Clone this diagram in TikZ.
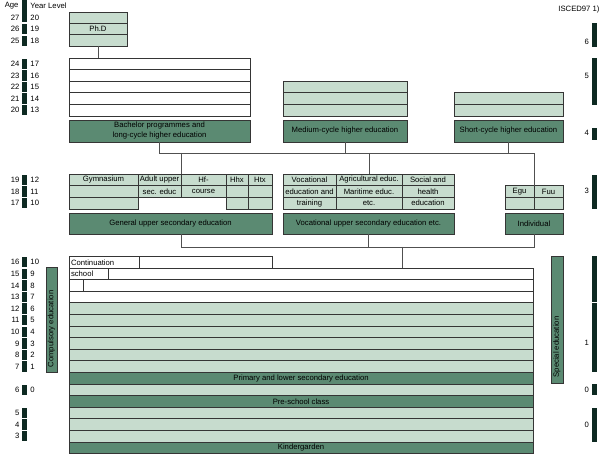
\documentclass[tikz,border=0pt]{standalone}
\usepackage{fontspec}
\setmainfont{Liberation Sans}
\usetikzlibrary{calc}
\definecolor{lgreen}{HTML}{C7DCCE}
\definecolor{dgreen}{HTML}{5B8A72}
\definecolor{barc}{HTML}{0E2A22}
\definecolor{bordc}{HTML}{353535}
\definecolor{connc}{HTML}{505050}
% box from (x1,y1) to (x2,y2)
\newcommand\rb[7]{\node[#1, minimum width={(#5-#3)*1pt}, minimum height={(#6-#4)*1pt}] (#2) at ({(#3+#5)/2},{(#4+#6)/2}) {#7};}
% left age / year row
\newcommand\yr[4]{%
  \node[barbox, minimum height=10.4pt] (#1) at (24.2,#2) {};
  \node[anchor=east] (#1a) at (19.5,#2) {#3};
  \node[anchor=west] (#1l) at (30.5,#2) {#4};}
% right ISCED bar
\newcommand\isc[5]{%
  \node[barbox, minimum height={(#3-#2)*1pt}] (#1) at (594.5,{(#2+#3)/2}) {};
  \node[anchor=east] (#1t) at (589,#4) {#5};}
\begin{document}
\begin{tikzpicture}[x=1pt,y=-1pt,
  every node/.style={inner sep=0pt, outer sep=0pt, font=\fontsize{7.7}{10}\selectfont, text=black},
  lrow/.style={fill=lgreen, draw=bordc, line width=0.9pt},
  wrow/.style={fill=white, draw=bordc, line width=0.9pt},
  drow/.style={fill=dgreen, draw=bordc, line width=0.9pt},
  barbox/.style={fill=barc, draw=none, minimum width=4.6pt},
  conn/.style={draw=connc, line width=0.9pt}]
\useasboundingbox (0,0) rectangle (600,454);

% ---------- header ----------
\node[anchor=east] (hAge) at (18.5,6) {Age};
\node[anchor=west] (hYear) at (30.5,6) {Year Level};
\node[barbox, minimum height=22.5pt] (b27) at (24.2,11.25) {};
\node[anchor=east] (b27a) at (19.5,17.5) {27};
\node[anchor=west] (b27l) at (30.5,17.5) {20};
\yr{b26}{29.2}{26}{19}
\yr{b25}{40.8}{25}{18}
\yr{b24}{63.8}{24}{17}
\yr{b23}{75.4}{23}{16}
\yr{b22}{87.0}{22}{15}
\yr{b21}{98.6}{21}{14}
\yr{b20}{110.2}{20}{13}
\yr{b19}{179.8}{19}{12}
\yr{b18}{191.5}{18}{11}
\yr{b17}{203.2}{17}{10}
\yr{b16}{262.3}{16}{10}
\yr{b15}{273.8}{15}{9}
\yr{b14}{285.4}{14}{8}
\yr{b13}{297.0}{13}{7}
\yr{b12}{308.6}{12}{6}
\yr{b11}{320.2}{11}{5}
\yr{b10}{331.8}{10}{4}
\yr{b9}{343.4}{9}{3}
\yr{b8}{355.0}{8}{2}
\yr{b7}{366.6}{7}{1}
\yr{b6}{389.8}{6}{0}
\yr{b5}{413.0}{5}{}
\yr{b4}{424.6}{4}{}
\yr{b3}{436.2}{3}{}

% ---------- ISCED column ----------
\node[anchor=east] (isced) at (599.5,10) {ISCED97 1)};
\isc{i6}{23}{47}{42}{6}
\isc{i5}{58}{105}{76}{5}
\isc{i4}{128}{140}{133}{4}
\isc{i3}{175}{209}{191}{3}
\node[barbox, minimum height=46pt] (i2) at (594.5,279) {};
\isc{i1}{303}{372}{343}{1}
\isc{i0a}{384}{394.5}{390}{0}
\isc{i0b}{408}{442}{425}{0}

% ---------- Ph.D ----------
\rb{lrow}{phdA}{69}{12}{127}{23.3}{}
\rb{lrow}{phdB}{69}{23.3}{127}{34.7}{Ph.D}
\rb{lrow}{phdC}{69}{34.7}{127}{46}{}

% ---------- long-cycle ----------
\rb{wrow}{uniA}{69}{58}{250}{69.6}{}
\rb{wrow}{uniB}{69}{69.6}{250}{81.2}{}
\rb{wrow}{uniC}{69}{81.2}{250}{92.8}{}
\rb{wrow}{uniD}{69}{92.8}{250}{104.4}{}
\rb{wrow}{uniE}{69}{104.4}{250}{116}{}
\node[drow, minimum width=181pt, minimum height=22pt, align=center] (bach) at (159.5,131) {Bachelor programmes and\\long-cycle higher education};

% ---------- medium / short ----------
\rb{lrow}{medA}{283}{81.2}{407}{92.8}{}
\rb{lrow}{medB}{283}{92.8}{407}{104.4}{}
\rb{lrow}{medC}{283}{104.4}{407}{116}{}
\rb{drow}{med}{283}{120}{407}{142}{Medium-cycle higher education}
\rb{lrow}{shA}{454}{92.8}{563}{104.4}{}
\rb{lrow}{shB}{454}{104.4}{563}{116}{}
\rb{drow}{sh}{454}{120}{563}{142}{Short-cycle higher education}

% ---------- upper secondary ----------
\rb{lrow}{gymA}{69}{174}{138}{185.7}{Gymnasium}
\rb{lrow}{gymB}{69}{185.7}{138}{197.3}{}
\rb{lrow}{gymC}{69}{197.3}{138}{209}{}
\rb{lrow}{adA}{138}{174}{181}{185.7}{Adult upper}
\rb{lrow}{adB}{138}{185.7}{181}{197.3}{sec. educ}
\rb{lrow}{hfA}{181}{174}{226}{185.7}{Hf-}
\rb{lrow}{hfB}{181}{185.7}{226}{197.3}{course}
\rb{lrow}{hhxA}{226}{174}{248}{185.7}{Hhx}
\rb{lrow}{hhxB}{226}{185.7}{248}{197.3}{}
\rb{lrow}{hhxC}{226}{197.3}{248}{209}{}
\rb{lrow}{htxA}{248}{174}{272}{185.7}{Htx}
\rb{lrow}{htxB}{248}{185.7}{272}{197.3}{}
\rb{lrow}{htxC}{248}{197.3}{272}{209}{}
\rb{drow}{gen}{69}{213}{272}{234}{General upper secondary education}

\rb{lrow}{vocA}{283}{174}{336}{185.7}{Vocational}
\rb{lrow}{vocB}{283}{185.7}{336}{197.3}{education and}
\rb{lrow}{vocC}{283}{197.3}{336}{209}{training}
\rb{lrow}{agrA}{336}{174}{402}{185.7}{Agricultural educ.}
\rb{lrow}{agrB}{336}{185.7}{402}{197.3}{Maritime educ.}
\rb{lrow}{agrC}{336}{197.3}{402}{209}{etc.}
\rb{lrow}{socA}{402}{174}{454}{185.7}{Social and}
\rb{lrow}{socB}{402}{185.7}{454}{197.3}{health}
\rb{lrow}{socC}{402}{197.3}{454}{209}{education}
\rb{drow}{vup}{283}{213}{454}{234}{Vocational upper secondary education etc.}

\rb{lrow}{eguA}{505}{185.7}{534}{197.3}{Egu}
\rb{lrow}{eguB}{505}{197.3}{534}{209}{}
\rb{lrow}{fuuA}{534}{185.7}{563}{197.3}{Fuu}
\rb{lrow}{fuuB}{534}{197.3}{563}{209}{}
\rb{drow}{ind}{505}{213}{563}{234}{Individual}

% ---------- basic school ----------
\rb{wrow}{contA}{69}{256.5}{139}{268}{}
\node[anchor=west] (contT) at ($(contA.west)+(2,0)$) {Continuation};
\rb{wrow}{contB}{139}{256.5}{272}{268}{}
\rb{wrow}{schA}{69}{268}{108}{279.6}{}
\node[anchor=west] (schT) at ($(schA.west)+(2,0)$) {school};
\rb{wrow}{schB}{108}{268}{533}{279.6}{}
\rb{wrow}{r14A}{69}{279.6}{83}{291.2}{}
\rb{wrow}{r14B}{83}{279.6}{533}{291.2}{}
\rb{wrow}{r13}{69}{291.2}{533}{302.8}{}
\rb{lrow}{r12}{69}{302.8}{533}{314.4}{}
\rb{lrow}{r11}{69}{314.4}{533}{326.0}{}
\rb{lrow}{r10}{69}{326.0}{533}{337.6}{}
\rb{lrow}{r9}{69}{337.6}{533}{349.2}{}
\rb{lrow}{r8}{69}{349.2}{533}{360.8}{}
\rb{lrow}{r7}{69}{360.8}{533}{372.4}{}
\rb{drow}{prim}{69}{372.4}{533}{384}{Primary and lower secondary education}
\rb{lrow}{r6}{69}{384}{533}{395.6}{}
\rb{drow}{pre}{69}{395.6}{533}{407.2}{Pre-school class}
\rb{lrow}{r5}{69}{407.2}{533}{418.8}{}
\rb{lrow}{r4}{69}{418.8}{533}{430.4}{}
\rb{lrow}{r3}{69}{430.4}{533}{442}{}
\rb{drow}{kg}{69}{442}{533}{453.5}{Kindergarden}

% ---------- side bars ----------
\rb{drow}{comp}{46}{267}{57}{372}{}
\node[rotate=90] (compT) at (51.5,329) {Compulsory education};
\rb{drow}{spec}{551}{256}{563}{383}{}
\node[rotate=90] (specT) at (557,347) {Special education};

% ---------- connectors ----------
\coordinate (busA) at (0,153);
\coordinate (busB) at (0,247);
\draw[conn] (phdC.south) -- (phdC.south |- uniA.north);
\draw[conn] (bach.south) -- (bach.south |- busA) -- (eguA.north east |- busA) -- (eguA.north east);
\draw[conn] (med.south) -- (med.south |- busA);
\draw[conn] (sh.south) -- (sh.south |- busA);
\draw[conn] (adA.north east |- busA) -- (adA.north east);
\draw[conn] (agrA.north |- busA) -- (agrA.north);
\draw[conn] (adA.east |- gen.south) -- (adA.east |- busB) -- (ind.south |- busB) -- (ind.south);
\draw[conn] (vup.south) -- (vup.south |- busB);
\draw[conn] (socA.west |- busB) -- (socA.west |- schB.north);
\end{tikzpicture}
\end{document}
